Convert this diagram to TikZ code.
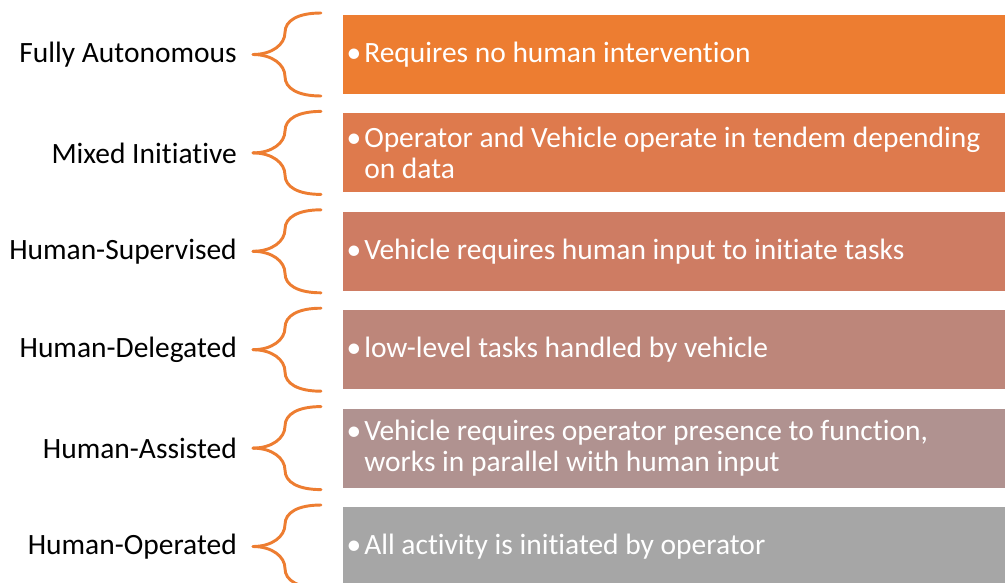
\documentclass[tikz,border=0pt]{standalone}
\usepackage{fontspec}
\setmainfont{Carlito}[Ligatures=NoCommon]
\usepackage{xcolor}
\usetikzlibrary{positioning}
\definecolor{cLvlA}{RGB}{237,125,49}
\definecolor{cLvlB}{RGB}{222,122,77}
\definecolor{cLvlC}{RGB}{206,124,99}
\definecolor{cLvlD}{RGB}{189,134,122}
\definecolor{cLvlE}{RGB}{176,146,144}
\definecolor{cLvlF}{RGB}{166,166,166}
\tikzset{
	levelbox/.style  ={rectangle, draw=none, minimum width=496.5pt, minimum height=59.25pt, inner sep=0pt, anchor=west},
	leveltext/.style ={anchor=west, align=left, text=white, inner sep=0pt, font=\fontsize{22.1pt}{23.8pt}\selectfont},
	levellabel/.style={anchor=east, align=right, text=black, inner sep=0pt, font=\fontsize{22.1pt}{23.8pt}\selectfont},
	bracepen/.style  ={draw=cLvlA, line width=2.2pt, line cap=round},
}
% curly brace in front of each level, tip pointing left
\newcommand{\lvlbrace}{%
	\draw[bracepen] (321,-41.5) .. controls (298,-41.5) and (285,-34) .. (285,-22) .. controls (285,-10) and (272,0) .. (253,0);
	\draw[bracepen] (253,0) .. controls (272,0) and (285,10) .. (285,22) .. controls (285,34) and (298,41.5) .. (321,41.5);}
% bullet hung in front of the first line
\newcommand{\lvlbullet}{\llap{\textbullet\hspace{2.2pt}}}

\begin{document}
\begin{tikzpicture}[x=0.75pt, y=-0.75pt]
	\clip (0,0) rectangle (1005,582);
	% ---------------- Fully Autonomous ----------------
	\begin{scope}[shift={(0,54.5)}]
		\node[levelbox, fill=cLvlA] (boxA) at (343,0) {};
		\node[leveltext] (txtA) at (364,0) {\lvlbullet Requires no human intervention};
		\node[levellabel] (lblA) at (237,0) {Fully Autonomous};
		\lvlbrace
	\end{scope}
	% ---------------- Mixed Initiative ----------------
	\begin{scope}[shift={(0,152.9)}]
		\node[levelbox, fill=cLvlB] (boxB) at (343,0) {};
		\node[leveltext] (txtB) at (364,0) {\lvlbullet Operator and Vehicle operate in tendem depending\\on data};
		\node[levellabel] (lblB) at (237,0) {Mixed Initiative};
		\lvlbrace
	\end{scope}
	% ---------------- Human-Supervised ----------------
	\begin{scope}[shift={(0,251.3)}]
		\node[levelbox, fill=cLvlC] (boxC) at (343,0) {};
		\node[leveltext] (txtC) at (364,0) {\lvlbullet Vehicle requires human input to initiate tasks};
		\node[levellabel] (lblC) at (237,0) {Human-Supervised};
		\lvlbrace
	\end{scope}
	% ---------------- Human-Delegated ----------------
	\begin{scope}[shift={(0,349.7)}]
		\node[levelbox, fill=cLvlD] (boxD) at (343,0) {};
		\node[leveltext] (txtD) at (364,0) {\lvlbullet low-level tasks handled by vehicle};
		\node[levellabel] (lblD) at (237,0) {Human-Delegated};
		\lvlbrace
	\end{scope}
	% ---------------- Human-Assisted ----------------
	\begin{scope}[shift={(0,448.1)}]
		\node[levelbox, fill=cLvlE] (boxE) at (343,0) {};
		\node[leveltext] (txtE) at (364,0) {\lvlbullet Vehicle requires operator presence to function,\\works in parallel with human input};
		\node[levellabel] (lblE) at (237,0) {Human-Assisted};
		\lvlbrace
	\end{scope}
	% ---------------- Human-Operated ----------------
	\begin{scope}[shift={(0,546.5)}]
		\node[levelbox, fill=cLvlF] (boxF) at (343,0) {};
		\node[leveltext] (txtF) at (364,0) {\lvlbullet All activity is initiated by operator};
		\node[levellabel] (lblF) at (237,0) {Human-Operated};
		\lvlbrace
	\end{scope}
\end{tikzpicture}
\end{document}
